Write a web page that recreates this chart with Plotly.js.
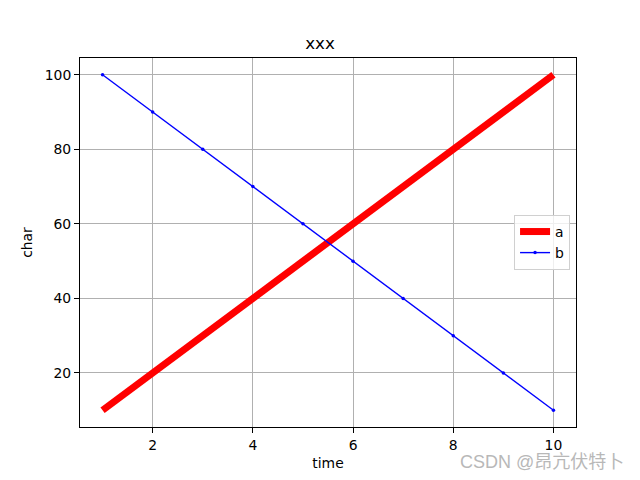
<!DOCTYPE html>
<html>
<head>
<meta charset="utf-8">
<script src="https://cdn.plot.ly/plotly-3.0.1.min.js"></script>
<style>html,body{margin:0;padding:0;background:#fff}#chart{width:640px;height:480px}</style>
</head>
<body>
<div id="chart"></div>
<script>
const xValues = [1, 2, 3, 4, 5, 6, 7, 8, 9, 10];
const seriesA = [10, 20, 30, 40, 50, 60, 70, 80, 90, 100];
const seriesB = [100, 90, 80, 70, 60, 50, 40, 30, 20, 10];
const xTicks = [2, 4, 6, 8, 10];
const yTicks = [20, 40, 60, 80, 100];

const font = {family: 'DejaVu Sans, sans-serif', size: 13.9, color: '#000'};

const traces = [
  {x: xValues, y: seriesA, name: 'a', mode: 'lines', type: 'scatter',
   line: {color: '#ff0000', width: 7}},
  {x: xValues, y: seriesB, name: 'b', mode: 'lines+markers', type: 'scatter',
   line: {color: '#0000ff', width: 1.4}, marker: {color: '#0000ff', size: 3.5}}
];

const axisCommon = {
  showline: true, mirror: true, linecolor: '#000', linewidth: 1,
  ticks: 'outside', ticklen: 5, tickwidth: 1, tickcolor: '#000',
  showgrid: true, gridcolor: '#b0b0b0', gridwidth: 1,
  zeroline: false, tickfont: font
};

const layout = {
  width: 640, height: 480,
  margin: {l: 80, r: 64, t: 58, b: 53},
  paper_bgcolor: '#fff', plot_bgcolor: '#fff',
  font: font,
  title: {text: 'xxx', font: {family: 'DejaVu Sans, sans-serif', size: 16.7, color: '#000'},
          x: 0.5, xanchor: 'center', y: 1 - 43/480, yanchor: 'middle'},
  xaxis: Object.assign({}, axisCommon, {range: [0.55, 10.45], tickvals: xTicks,
    title: {text: 'time', font: font, standoff: 6}}),
  yaxis: Object.assign({}, axisCommon, {range: [5.5, 104.5], tickvals: yTicks,
    title: {text: 'char', font: font, standoff: 8}}),
  showlegend: true,
  legend: {x: 0.988, xanchor: 'right', y: 0.5, yanchor: 'middle',
           bgcolor: 'rgba(255,255,255,0.8)', bordercolor: '#d0d0d0', borderwidth: 1,
           font: font, itemwidth: 30, tracegroupgap: 0},
  annotations: [{
    text: 'CSDN @昂亢伏特卜', xref: 'paper', yref: 'paper', x: 1 + (626 - 576) / 496, xanchor: 'right',
    y: -(462 - 427) / 369, yanchor: 'middle', showarrow: false,
    font: {family: 'Liberation Sans, Noto Sans CJK SC, sans-serif', size: 18, color: '#b8b8b8'}
  }]
};

Plotly.newPlot('chart', traces, layout, {displayModeBar: false, staticPlot: true});
</script>
</body>
</html>
